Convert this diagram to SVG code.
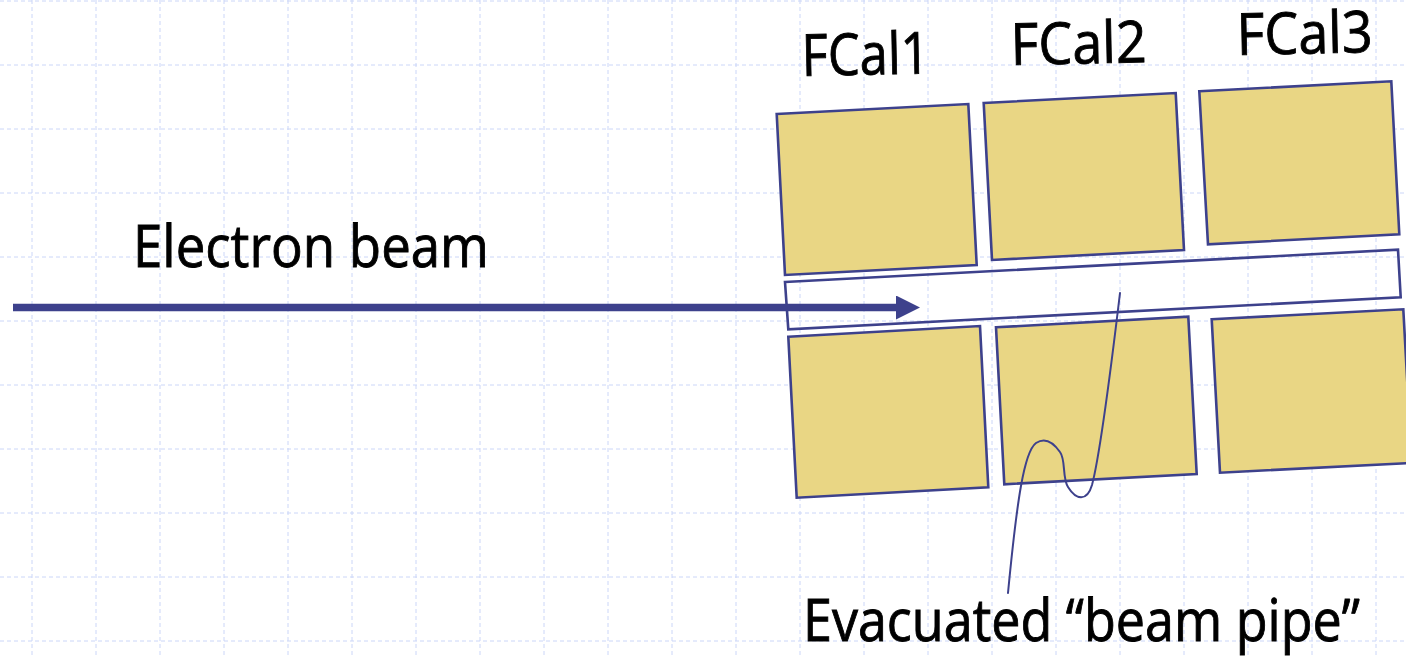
<svg xmlns="http://www.w3.org/2000/svg" width="1406" height="656" viewBox="0 0 1406 656">
  <defs>
    <style>
      .grid line { stroke: #cbd6f8; stroke-width: 1; stroke-dasharray: 4 3; }
      .block { fill: #e9d684; stroke: #3d418c; stroke-width: 2.6; stroke-linejoin: miter; }
      .pipe { fill: none; stroke: #3d418c; stroke-width: 2.6; }
      .label { font-family: "Comic Sans MS", "Open Sans", "DejaVu Sans", sans-serif; font-size: 58px; fill: #000; stroke: #000; stroke-width: 0.9; }
      .wire { fill: none; stroke: #3d418c; stroke-width: 2; stroke-linecap: round; }
    </style>
    <marker id="head" viewBox="0 0 24 24" refX="0" refY="12" markerWidth="24" markerHeight="24" markerUnits="userSpaceOnUse" orient="auto">
      <path d="M0,0 L24,12 L0,24 Z" fill="#3d418c"/>
    </marker>
  </defs>

  <rect width="1406" height="656" fill="#ffffff"/>

  <!-- background grid, 64 px pitch -->
  <g class="grid">
    <line x1="32" y1="0" x2="32" y2="656"/>
    <line x1="96" y1="0" x2="96" y2="656"/>
    <line x1="160" y1="0" x2="160" y2="656"/>
    <line x1="224" y1="0" x2="224" y2="656"/>
    <line x1="288" y1="0" x2="288" y2="656"/>
    <line x1="352" y1="0" x2="352" y2="656"/>
    <line x1="416" y1="0" x2="416" y2="656"/>
    <line x1="480" y1="0" x2="480" y2="656"/>
    <line x1="544" y1="0" x2="544" y2="656"/>
    <line x1="608" y1="0" x2="608" y2="656"/>
    <line x1="672" y1="0" x2="672" y2="656"/>
    <line x1="736" y1="0" x2="736" y2="656"/>
    <line x1="800" y1="0" x2="800" y2="656"/>
    <line x1="864" y1="0" x2="864" y2="656"/>
    <line x1="928" y1="0" x2="928" y2="656"/>
    <line x1="992" y1="0" x2="992" y2="656"/>
    <line x1="1056" y1="0" x2="1056" y2="656"/>
    <line x1="1120" y1="0" x2="1120" y2="656"/>
    <line x1="1184" y1="0" x2="1184" y2="656"/>
    <line x1="1248" y1="0" x2="1248" y2="656"/>
    <line x1="1312" y1="0" x2="1312" y2="656"/>
    <line x1="1376" y1="0" x2="1376" y2="656"/>
    <line x1="0" y1="1" x2="1406" y2="1"/>
    <line x1="0" y1="65" x2="1406" y2="65"/>
    <line x1="0" y1="129" x2="1406" y2="129"/>
    <line x1="0" y1="193" x2="1406" y2="193"/>
    <line x1="0" y1="257" x2="1406" y2="257"/>
    <line x1="0" y1="321" x2="1406" y2="321"/>
    <line x1="0" y1="385" x2="1406" y2="385"/>
    <line x1="0" y1="449" x2="1406" y2="449"/>
    <line x1="0" y1="513" x2="1406" y2="513"/>
    <line x1="0" y1="577" x2="1406" y2="577"/>
    <line x1="0" y1="641" x2="1406" y2="641"/>
  </g>

  <!-- calorimeter modules, upper row -->
  <g id="fcal1-top"><polygon class="block" points="776.7,114 968.3,104 976.7,265 785,275"/></g>
  <g id="fcal2-top"><polygon class="block" points="983.7,103 1175.7,93 1184,250 992,260"/></g>
  <g id="fcal3-top"><polygon class="block" points="1199.3,91.3 1391.3,81.3 1399.3,234.3 1208,244.3"/></g>

  <!-- evacuated beam pipe -->
  <g id="beam-pipe"><polygon class="pipe" points="785,282 1398,249.7 1400.7,297.3 788.3,329.3"/></g>

  <!-- calorimeter modules, lower row -->
  <g id="fcal1-bottom"><polygon class="block" points="788.3,336.7 980,326 988.3,487.3 796.7,497.7"/></g>
  <g id="fcal2-bottom"><polygon class="block" points="996,327.3 1188.3,316.7 1196.7,474 1004.3,484.3"/></g>
  <g id="fcal3-bottom"><polygon class="block" points="1211.7,319.3 1403.3,309.3 1411.7,463 1220,472.7"/></g>

  <!-- connectors -->
  <g id="connectors">
    <line x1="13" y1="307.5" x2="896" y2="307.5" stroke="#3d418c" stroke-width="7.5" marker-end="url(#head)"/>
    <path class="wire" d="M1120,293 C1112,360 1100,455 1092,485 C1087,502 1076,500 1068,487 C1062,478 1066,460 1060,452 C1053,442 1045,437 1036,443 C1024,452 1017,500 1008,593"/>
  </g>

  <!-- labels -->
  <g id="label-electron-beam"><text class="label" x="133" y="267" textLength="356" lengthAdjust="spacingAndGlyphs">Electron beam</text></g>
  <g id="label-fcal1"><text class="label" x="802" y="76" textLength="128" lengthAdjust="spacingAndGlyphs" transform="rotate(-1.2 802 76)">FCal1</text></g>
  <g id="label-fcal2"><text class="label" x="1011" y="65" textLength="136" lengthAdjust="spacingAndGlyphs" transform="rotate(-1.2 1011 65)">FCal2</text></g>
  <g id="label-fcal3"><text class="label" x="1237" y="55" textLength="136" lengthAdjust="spacingAndGlyphs" transform="rotate(-1.2 1237 55)">FCal3</text></g>
  <g id="label-beam-pipe"><text class="label" x="803" y="641" textLength="557" lengthAdjust="spacingAndGlyphs">Evacuated “beam pipe”</text></g>
</svg>
